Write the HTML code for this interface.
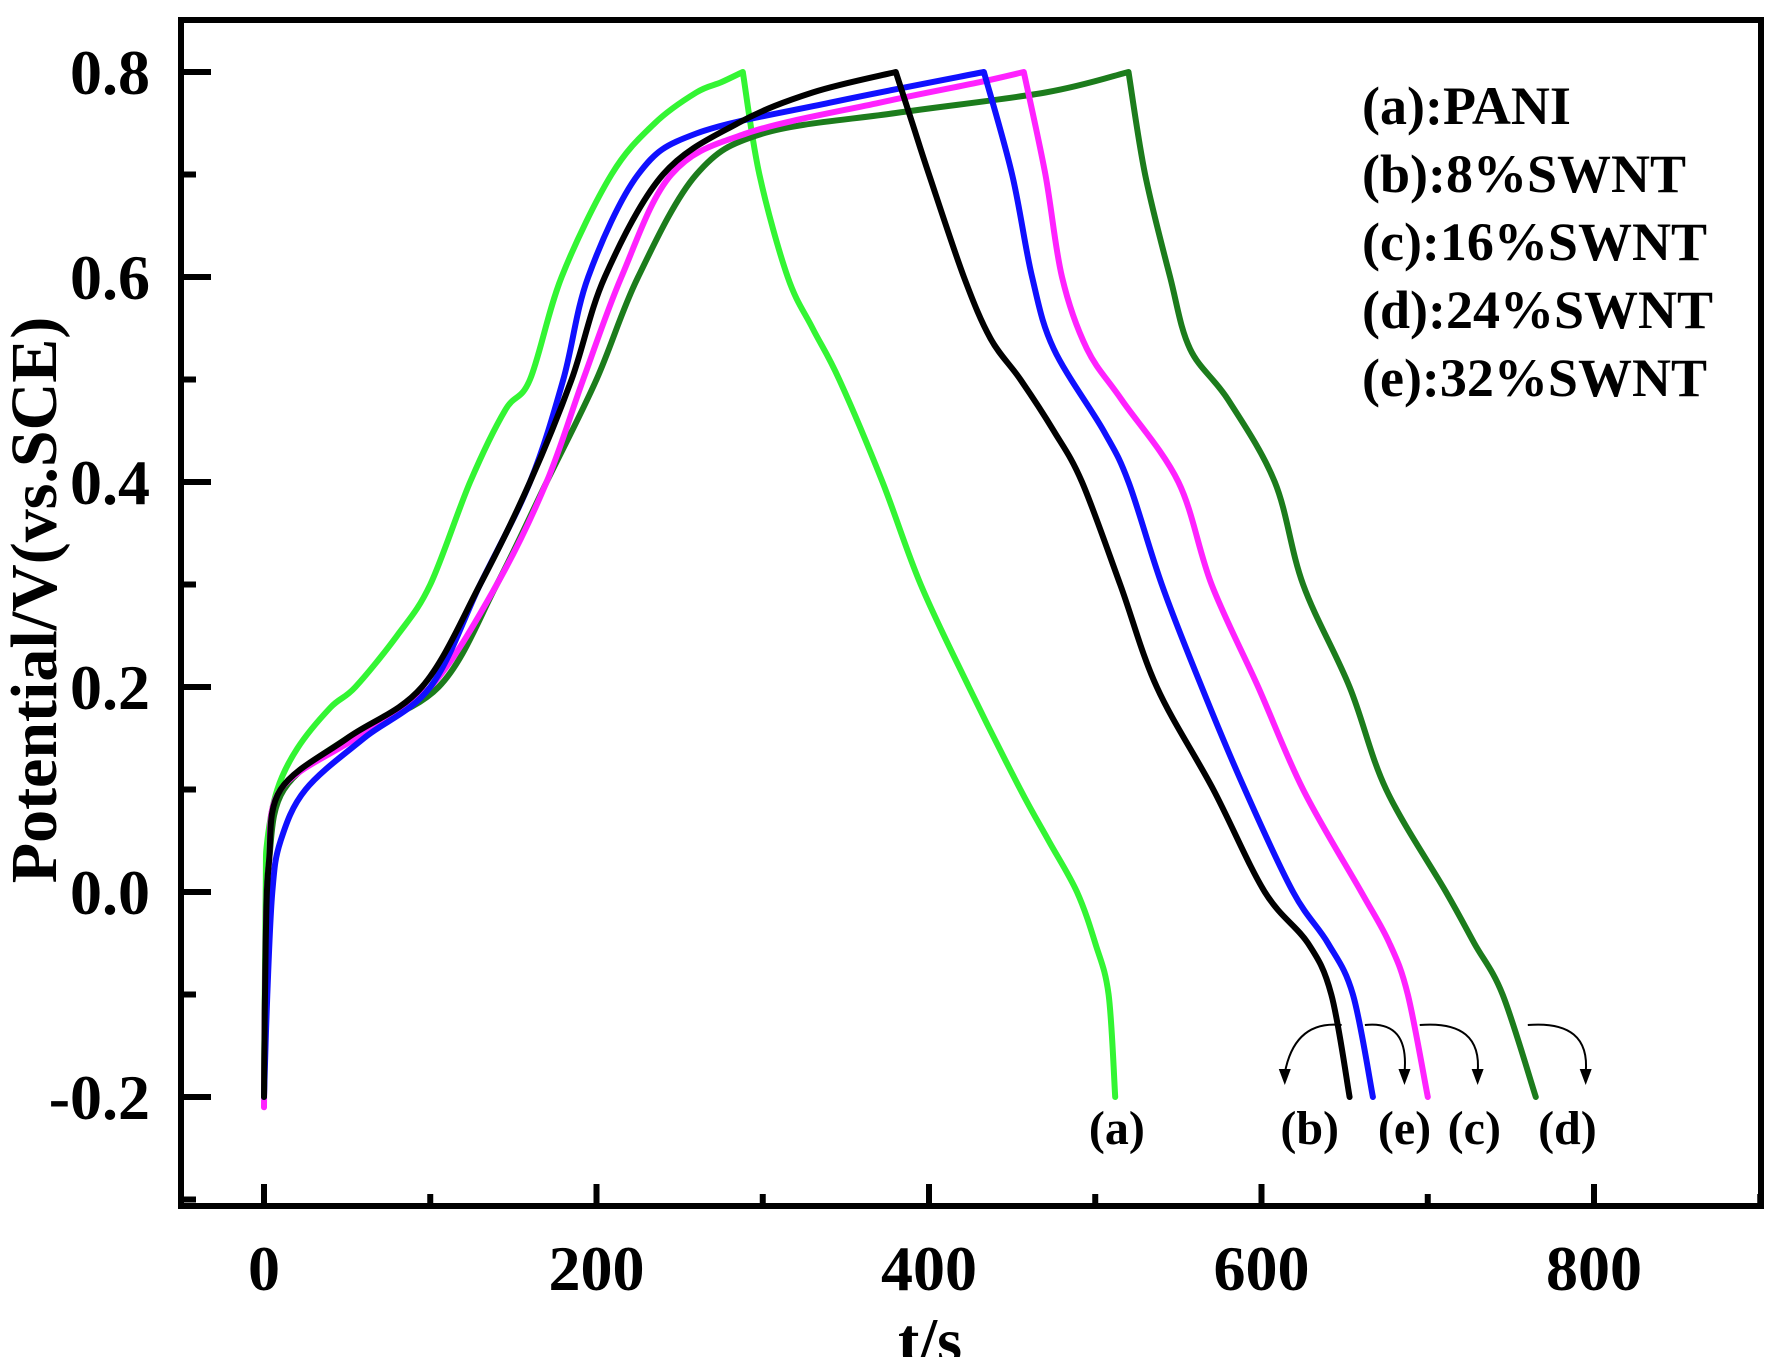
<!DOCTYPE html>
<html><head><meta charset="utf-8"><style>
html,body{margin:0;padding:0;background:#fff;}
svg{display:block;}
text{font-family:"Liberation Serif",serif;font-weight:bold;fill:#000;}
</style></head><body>
<svg id="chart" width="1769" height="1357" viewBox="0 0 1769 1357" xmlns="http://www.w3.org/2000/svg"></svg>
<script>
const seriesNames=["(a):PANI","(b):8%SWNT","(c):16%SWNT","(d):24%SWNT","(e):32%SWNT"];
const seriesColors=["#33f533","#000000","#ff22ff","#1c7c1c","#1010ff"];
const tA=[0,1,2,8,20,40,55,80,100,124,145,160,179,209,235,260,275,288,298,315,330,346,372,395,424,455,472,489,500,508,512];
const vA=[-0.2,0,0.05,0.1,0.14,0.18,0.2,0.25,0.3,0.4,0.47,0.5,0.6,0.7,0.75,0.78,0.79,0.8,0.7,0.6,0.55,0.5,0.4,0.3,0.2,0.1,0.05,0,-0.05,-0.1,-0.2];
const tB=[0,1,3,10,50,95,130,160,185,205,240,285,330,380,390,400,421,437,455,475,492,515,537,571,602,628,642,653];
const vB=[-0.2,-0.05,0.03,0.1,0.15,0.2,0.3,0.4,0.5,0.6,0.7,0.75,0.78,0.8,0.75,0.7,0.6,0.54,0.5,0.45,0.4,0.3,0.2,0.1,0,-0.05,-0.1,-0.2];
const tC=[0,1,3,10,55,100,140,170,192,215,245,290,370,430,457,470,480,495,516,550,570,598,625,660,677,688,700];
const vC=[-0.21,-0.05,0.03,0.1,0.15,0.2,0.3,0.4,0.5,0.6,0.7,0.74,0.77,0.79,0.8,0.7,0.6,0.53,0.48,0.4,0.3,0.2,0.1,0,-0.05,-0.1,-0.2];
const tD=[0,1,3,12,50,105,140,170,200,225,260,300,380,470,520,530,545,557,580,608,625,653,675,711,728,745,765];
const vD=[-0.2,-0.05,0.03,0.1,0.15,0.2,0.3,0.4,0.5,0.6,0.7,0.74,0.76,0.78,0.8,0.7,0.6,0.53,0.48,0.4,0.3,0.2,0.1,0,-0.05,-0.1,-0.2];
const tE=[0,2,5,10,25,60,100,130,160,180,195,225,260,340,433,450,462,475,505,520,540,564,590,619,640,655,667];
const vE=[-0.2,-0.1,0,0.05,0.1,0.15,0.2,0.3,0.4,0.5,0.6,0.7,0.74,0.77,0.8,0.7,0.6,0.53,0.45,0.4,0.3,0.2,0.1,0,-0.05,-0.1,-0.2];
const xTicks=[0,200,400,600,800];
const yTicks=[0.8,0.6,0.4,0.2,0.0,-0.2];
const yTickLabels=["0.8","0.6","0.4","0.2","0.0","-0.2"];
const endLabels=["(a)","(b)","(e)","(c)","(d)"];
const endLabelT=[513,629,686,728,784];

const svg=document.getElementById('chart');
const NS='http://www.w3.org/2000/svg';
const X=t=>264+t*1.6625;
const Y=v=>72+(0.8-v)*1025;
function mk(tag,attrs){const e=document.createElementNS(NS,tag);for(const k in attrs)e.setAttribute(k,attrs[k]);svg.appendChild(e);return e;}
function smooth(pts){
  let d='';
  for(let i=0;i<pts.length-1;i++){
    const p0=pts[Math.max(0,i-1)],p1=pts[i],p2=pts[i+1],p3=pts[Math.min(pts.length-1,i+2)];
    const c1=[p1[0]+(p2[0]-p0[0])/6,p1[1]+(p2[1]-p0[1])/6];
    const c2=[p2[0]-(p3[0]-p1[0])/6,p2[1]-(p3[1]-p1[1])/6];
    d+=`C${c1[0].toFixed(1)},${c1[1].toFixed(1)} ${c2[0].toFixed(1)},${c2[1].toFixed(1)} ${p2[0].toFixed(1)},${p2[1].toFixed(1)} `;
  }
  return d;
}
const frame=mk('rect',{x:181,y:20,width:1580,height:1186,fill:'none',stroke:'#000','stroke-width':6});


for(let t=0;t<=900;t+=100){
  const major=t%200===0;
  const tk=mk('line',{x1:X(t),x2:X(t),y1:1206,y2:1206-(major?22:12),stroke:'#000','stroke-width':6});
  
  
}
xTicks.forEach(t=>{
  const tx=mk('text',{x:X(t),y:1290,'text-anchor':'middle','font-size':64});
  tx.textContent=String(t);
  
  
});
for(let i=-3;i<=8;i++){
  const v=i/10;
  const major=i%2===0;
  const tk=mk('line',{x1:181,x2:181+(major?30:15),y1:Y(v),y2:Y(v),stroke:'#000','stroke-width':6});
  
  
}
yTicks.forEach((v,i)=>{
  const tx=mk('text',{x:150,y:Y(v)+22,'text-anchor':'end','font-size':64});
  tx.textContent=yTickLabels[i];
  
  
});
const yt=mk('text',{x:0,y:0,'text-anchor':'middle','font-size':66,transform:'translate(56,600) rotate(-90)'});
yt.textContent='Potential/V(vs.SCE)';


const xt=mk('text',{x:930,y:1362,'text-anchor':'middle','font-size':64});
xt.textContent='t/s';


const ts=[tA,tB,tC,tD,tE], vs=[vA,vB,vC,vD,vE];
const order=[0,3,2,4,1];
order.forEach(i=>{
  const pts=ts[i].map((t,j)=>[X(t),Y(vs[i][j])]);
  let pk=0;vs[i].forEach((v,j)=>{if(v>vs[i][pk])pk=j;});
  const d='M'+pts[0][0].toFixed(1)+','+pts[0][1].toFixed(1)+' '+smooth(pts.slice(0,pk+1))+smooth(pts.slice(pk));
  const p=mk('path',{d:d,fill:'none',stroke:seriesColors[i],'stroke-width':6,'stroke-linejoin':'round','stroke-linecap':'round'});
  
  
});
endLabels.forEach((l,i)=>{
  const tx=mk('text',{x:X(endLabelT[i]),y:1144,'text-anchor':'middle','font-size':48});
  tx.textContent=l;
  
  
});
const arrows=[[653,614],[667,686],[700,730],[765,795]];
arrows.forEach(a=>{
  const x1=X(a[0]),x2=X(a[1]);
  const y1=1025,y2=1085;
  const p=mk('path',{d:`M${x1-8},${y1} Q${x2+(x2>x1?5:10)},${y1-5} ${x2},${y2-12}`,fill:'none',stroke:'#000','stroke-width':2});
  
  
  const h=mk('path',{d:`M${x2-6},${y2-16} L${x2},${y2} L${x2+6},${y2-16} Z`,fill:'#000'});
  
  
});
seriesNames.forEach((n,i)=>{
  const tx=mk('text',{x:1362,y:124+i*68,'font-size':54});
  tx.textContent=n;
  
  
});
</script>
</body></html>
